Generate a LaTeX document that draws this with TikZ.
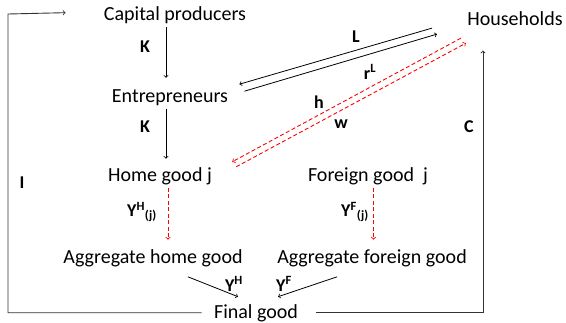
\documentclass[tikz,border=0pt]{standalone}
\usepackage{fontspec}
\setmainfont{Carlito}

\begin{document}
\begin{tikzpicture}[x=1pt, y=-1pt, line width=0.8pt,
  box/.style={anchor=base, inner sep=3pt, font=\fontsize{20}{24}\selectfont},
  lab/.style={anchor=center, inner sep=0pt, font=\fontsize{18}{21}\selectfont\bfseries},
  arr/.style={->, black},
  loop/.style={->, black!80, line width=0.9pt},
  redarr/.style={->, red, line width=0.9pt, dash pattern=on 4pt off 2.5pt}]

  %% ════ 节点 ════
  \node[box] (cap) at (175,20) {Capital producers};
  \node[box] (ent) at (170,102) {Entrepreneurs};
  \node[box] (hgj) at (160,181) {Home good j};
  \node[box] (fgj) at (368,181) {Foreign good \ j};
  \node[box] (agh) at (153,263) {Aggregate home good};
  \node[box] (agf) at (372,263) {Aggregate foreign good};
  \node[box] (fin) at (256,318) {Final good};
  \node[box] (hh) at (515,25) {Households};

  %% ════ 实线箭头 ════
  \draw[arr] ([xshift=-9pt]cap.south) -- ([xshift=-4pt,yshift=8pt]ent.north);
  \draw[arr] ([xshift=-4pt]ent.south) -- ([xshift=6pt,yshift=5pt]hgj.north);
  \draw[arr] ([xshift=-32pt,yshift=-10pt]hh.west) -- ([xshift=8pt,yshift=13pt]ent.east);
  \draw[arr] ([xshift=13pt,yshift=6pt]ent.east) -- ([xshift=-27pt,yshift=-16pt]hh.west);
  \draw[arr] ([xshift=35pt,yshift=-7pt]agh.south) -- ([xshift=-18pt,yshift=4pt]fin.north);
  \draw[arr] ([xshift=-35pt,yshift=-7pt]agf.south) -- ([xshift=22pt,yshift=4pt]fin.north);

  %% ════ 虚线（红）════
  \draw[redarr] ([xshift=-3pt,yshift=-20pt]hh.west) -- ([xshift=17pt,yshift=14pt]hgj.east);
  \draw[redarr] ([xshift=21pt,yshift=9pt]hgj.east) -- ([xshift=2pt,yshift=-25pt]hh.west);
  \draw[redarr] ([xshift=8pt]hgj.south) -- ([xshift=15pt,yshift=6pt]agh.north);
  \draw[redarr] ([xshift=5.5pt]fgj.south) -- ([xshift=1.5pt,yshift=6pt]agf.north);

  %% ════ 回路 ════
  \coordinate (itop) at (8,14);
  \draw[loop] ([xshift=-9pt]fin.west) -| (itop) -- ([xshift=-35pt,yshift=2pt]cap.west);
  \draw[loop] ([xshift=15pt]fin.east) -| ([xshift=-32pt,yshift=-22pt]hh.south);

  %% ════ 标签 ════
  \node[lab] (lk1) at (145,47) {K};
  \node[lab] (lk2) at (145,127) {K};
  \node[lab] (ll) at (356,37) {L};
  \node[lab] (lr) at (370,72) {r\textsuperscript{L}};
  \node[lab] (lh) at (319,102) {h};
  \node[lab] (lw) at (341,124) {w};
  \node[lab] (li) at (22,183) {I};
  \node[lab] (lc) at (469,127) {C};
  \node[lab] (lyhj) at (142,212) {Y\textsuperscript{H}\textsubscript{(j)}};
  \node[lab] (lyfj) at (355,212) {Y\textsuperscript{F}\textsubscript{(j)}};
  \node[lab] (lyh) at (234,284) {Y\textsuperscript{H}};
  \node[lab] (lyf) at (284,284) {Y\textsuperscript{F}};

  \pgfresetboundingbox
  \path[use as bounding box] (0,0) rectangle (566,322);
\end{tikzpicture}
\end{document}
